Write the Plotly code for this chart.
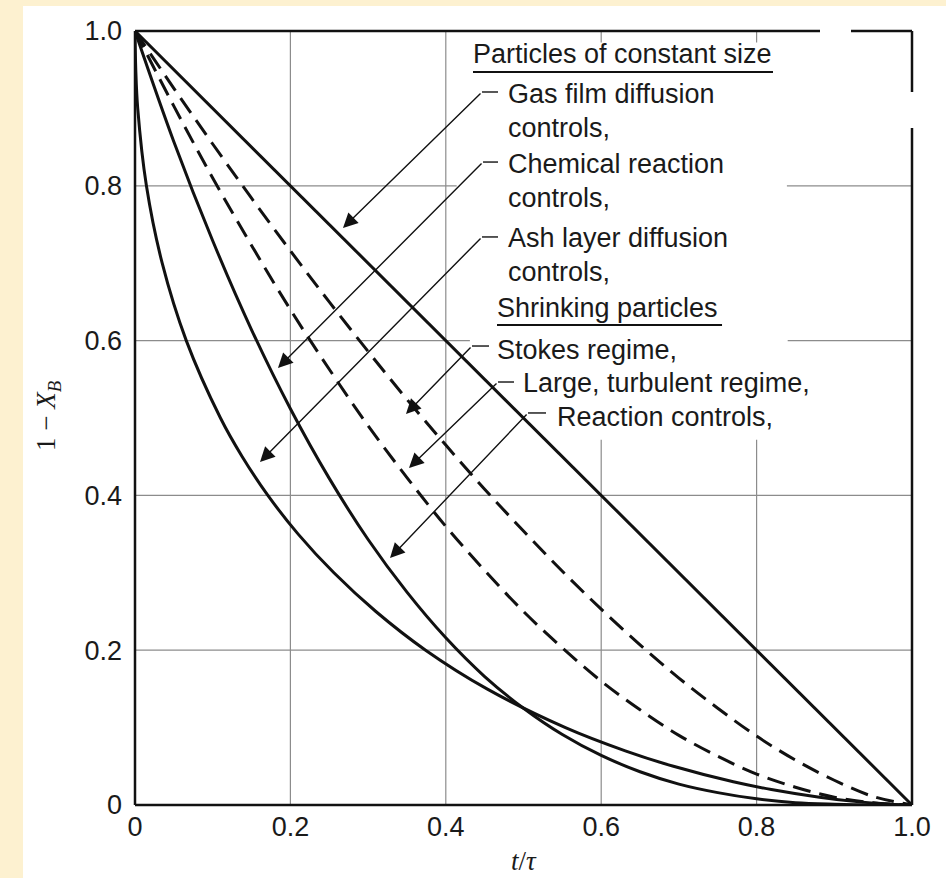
import plotly.graph_objects as go

# ---- data (t/tau vs 1 - X_B) ----
t_grid = [0.0, 0.05, 0.10, 0.15, 0.20, 0.25, 0.30, 0.35, 0.40, 0.45, 0.50,
          0.55, 0.60, 0.65, 0.70, 0.75, 0.80, 0.85, 0.90, 0.95, 1.0]

gas_film_t = [0.0, 1.0]
gas_film_y = [1.0, 0.0]

stokes_y = [1.0, 0.926, 0.854, 0.784, 0.716, 0.650, 0.586, 0.524, 0.465, 0.408, 0.354,
            0.302, 0.253, 0.207, 0.164, 0.125, 0.089, 0.058, 0.032, 0.011, 0.0]

turbulent_y = [1.0, 0.903, 0.810, 0.723, 0.640, 0.563, 0.490, 0.423, 0.360, 0.303, 0.250,
               0.203, 0.160, 0.123, 0.090, 0.063, 0.040, 0.023, 0.010, 0.003, 0.0]

reaction_y = [1.0, 0.857, 0.729, 0.614, 0.512, 0.422, 0.343, 0.275, 0.216, 0.166, 0.125,
              0.091, 0.064, 0.043, 0.027, 0.016, 0.008, 0.003, 0.001, 0.0, 0.0]

ash_t = [0.0, 0.001, 0.0035, 0.0147, 0.035, 0.066, 0.110, 0.138, 0.171, 0.210, 0.256,
         0.310, 0.374, 0.453, 0.554, 0.631, 0.693, 0.770, 0.819, 0.881, 0.922, 0.972, 1.0]
ash_y = [1.0, 0.95, 0.90, 0.80, 0.70, 0.60, 0.50, 0.45, 0.40, 0.35, 0.30,
         0.25, 0.20, 0.15, 0.10, 0.07, 0.05, 0.03, 0.02, 0.01, 0.005, 0.001, 0.0]

x_tickvals = [0, 0.2, 0.4, 0.6, 0.8, 1.0]
x_ticktext = ["0", "0.2", "0.4", "0.6", "0.8", "1.0"]
y_tickvals = [0, 0.2, 0.4, 0.6, 0.8, 1.0]
y_ticktext = ["0", "0.2", "0.4", "0.6", "0.8", "1.0"]

INK = "#111111"
GRID = "#8c8c8c"
CREAM = "#fdf1d0"

fig = go.Figure()

solid = dict(color=INK, width=3)
dashed = dict(color=INK, width=3, dash="18px,9px")

fig.add_trace(go.Scatter(x=gas_film_t, y=gas_film_y, mode="lines", line=solid,
                         cliponaxis=False, showlegend=False))
fig.add_trace(go.Scatter(x=t_grid, y=stokes_y, mode="lines", line=dashed, line_shape="spline",
                         cliponaxis=False, showlegend=False))
fig.add_trace(go.Scatter(x=t_grid, y=turbulent_y, mode="lines", line=dashed, line_shape="spline",
                         cliponaxis=False, showlegend=False))
fig.add_trace(go.Scatter(x=t_grid, y=reaction_y, mode="lines", line=solid, line_shape="spline",
                         cliponaxis=False, showlegend=False))
fig.add_trace(go.Scatter(x=ash_t, y=ash_y, mode="lines", line=solid, line_shape="spline",
                         cliponaxis=False, showlegend=False))

shapes = []
# cream page strips
shapes.append(dict(type="rect", xref="paper", yref="paper", x0=-0.1738, x1=-0.1441,
                   y0=-0.0943, y1=1.0401, fillcolor=CREAM, line_width=0, layer="below"))
shapes.append(dict(type="rect", xref="paper", yref="paper", x0=-0.1738, x1=1.0438,
                   y0=1.0323, y1=1.0401, fillcolor=CREAM, line_width=0, layer="below"))

def seg(x0, y0, x1, y1, color, width):
    shapes.append(dict(type="line", xref="paper", yref="paper", x0=x0, y0=y0, x1=x1, y1=y1,
                       line=dict(color=color, width=width), layer="below"))

# grid lines (interrupted where the labels sit)
seg(0.2, 0, 0.2, 1, GRID, 1.2)
seg(0.4, 0, 0.4, 1, GRID, 1.2)
for gx in (0.6, 0.8):
    seg(gx, 0, gx, 0.472, GRID, 1.2)
    seg(gx, 0.985, gx, 1, GRID, 1.2)
seg(0, 0.2, 1, 0.2, GRID, 1.2)
seg(0, 0.4, 1, 0.4, GRID, 1.2)
seg(0, 0.6, 0.431, 0.6, GRID, 1.2)
seg(0.84, 0.6, 1, 0.6, GRID, 1.2)
seg(0, 0.8, 0.414, 0.8, GRID, 1.2)
seg(0.839, 0.8, 1, 0.8, GRID, 1.2)

# frame
def frame(x0, y0, x1, y1):
    shapes.append(dict(type="line", xref="paper", yref="paper", x0=x0, y0=y0, x1=x1, y1=y1,
                       line=dict(color=INK, width=2.5)))
frame(0, 0, 0, 1)
frame(0, 0, 1, 0)
frame(0, 1, 0.8816, 1)
frame(0.9215, 1, 1, 1)
frame(1, 1, 1, 0.9212)
frame(1, 0.8747, 1, 0)

# underlines of headings
def uline(x0, x1, y):
    shapes.append(dict(type="line", xref="paper", yref="paper", x0=x0, y0=y, x1=x1, y1=y,
                       line=dict(color=INK, width=2)))
uline(0.4350, 0.8211, 0.947)
uline(0.4659, 0.7555, 0.6202)

annotations = []
TXT = dict(family="Liberation Sans, Arial, sans-serif", size=27, color="#1a1a1a")

def label(text, px, py):
    annotations.append(dict(text=text, xref="paper", yref="paper",
                            x=(px - 135) / 777, y=(805 - py) / 774,
                            xanchor="left", yanchor="middle", showarrow=False, font=TXT))

label("Particles of constant size", 471, 54)
label("Gas film diffusion", 506, 94)
label("controls,", 506, 128)
label("Chemical reaction", 506, 164)
label("controls,", 506, 198)
label("Ash layer diffusion", 506, 238)
label("controls,", 506, 272)
label("Shrinking particles", 495, 308)
label("Stokes regime,", 495, 350)
label("Large, turbulent regime,", 521, 383)
label("Reaction controls,", 555, 417)

# leader lines: (tail x, tail y, dash end x, tip x, tip y) in axis units
leaders = [
    (0.4466, 0.9212, 0.4672, 0.2677, 0.7455),
    (0.4479, 0.8307, 0.4672, 0.1840, 0.5646),
    (0.4466, 0.7339, 0.4672, 0.1609, 0.4432),
    (0.4337, 0.5930, 0.4556, 0.3488, 0.5052),
    (0.4672, 0.5465, 0.4878, 0.3526, 0.4354),
    (0.5058, 0.5065, 0.5290, 0.3282, 0.3191),
]
for tx, ty, dx, hx, hy in leaders:
    shapes.append(dict(type="line", xref="paper", yref="paper", x0=tx, y0=ty, x1=dx, y1=ty,
                       line=dict(color=INK, width=1.4)))
    annotations.append(dict(text="", x=hx, y=hy, ax=tx, ay=ty, xref="x", yref="y",
                            axref="x", ayref="y", showarrow=True, arrowhead=2,
                            arrowsize=2.1, arrowwidth=1.4, arrowcolor=INK, standoff=0))

# axis titles
annotations.append(dict(text="<i>t</i>/<i>τ</i>", xref="paper", yref="paper",
                        x=0.5, y=(805 - 861) / 774, xanchor="center", yanchor="middle",
                        showarrow=False,
                        font=dict(family="Liberation Serif, Times New Roman, serif", size=27,
                                  color="#1a1a1a")))
annotations.append(dict(text="1 − <i>X</i><sub><i>B</i></sub>", xref="paper", yref="paper",
                        x=(48 - 135) / 777, y=(805 - 416) / 774, xanchor="center",
                        yanchor="middle", textangle=-90, showarrow=False,
                        font=dict(family="Liberation Serif, Times New Roman, serif", size=27,
                                  color="#1a1a1a")))

TICKF = dict(family="Liberation Sans, Arial, sans-serif", size=27, color="#1a1a1a")
fig.update_layout(
    width=946, height=878,
    margin=dict(l=135, r=34, t=31, b=73),
    paper_bgcolor="white", plot_bgcolor="white",
    showlegend=False,
    shapes=shapes, annotations=annotations,
    xaxis=dict(range=[0, 1], tickvals=x_tickvals, ticktext=x_ticktext, showgrid=False,
               zeroline=False, showline=False, ticks="", tickfont=TICKF,
               ticklabelstandoff=3, fixedrange=True),
    yaxis=dict(range=[0, 1], tickvals=y_tickvals, ticktext=y_ticktext, showgrid=False,
               zeroline=False, showline=False, ticks="", tickfont=TICKF,
               ticklabelstandoff=12, fixedrange=True),
)

fig.write_html(
    "out.html",
    config={"displayModeBar": False},
    post_script="document.body.style.margin='0px';document.body.style.overflow='hidden';",
)
